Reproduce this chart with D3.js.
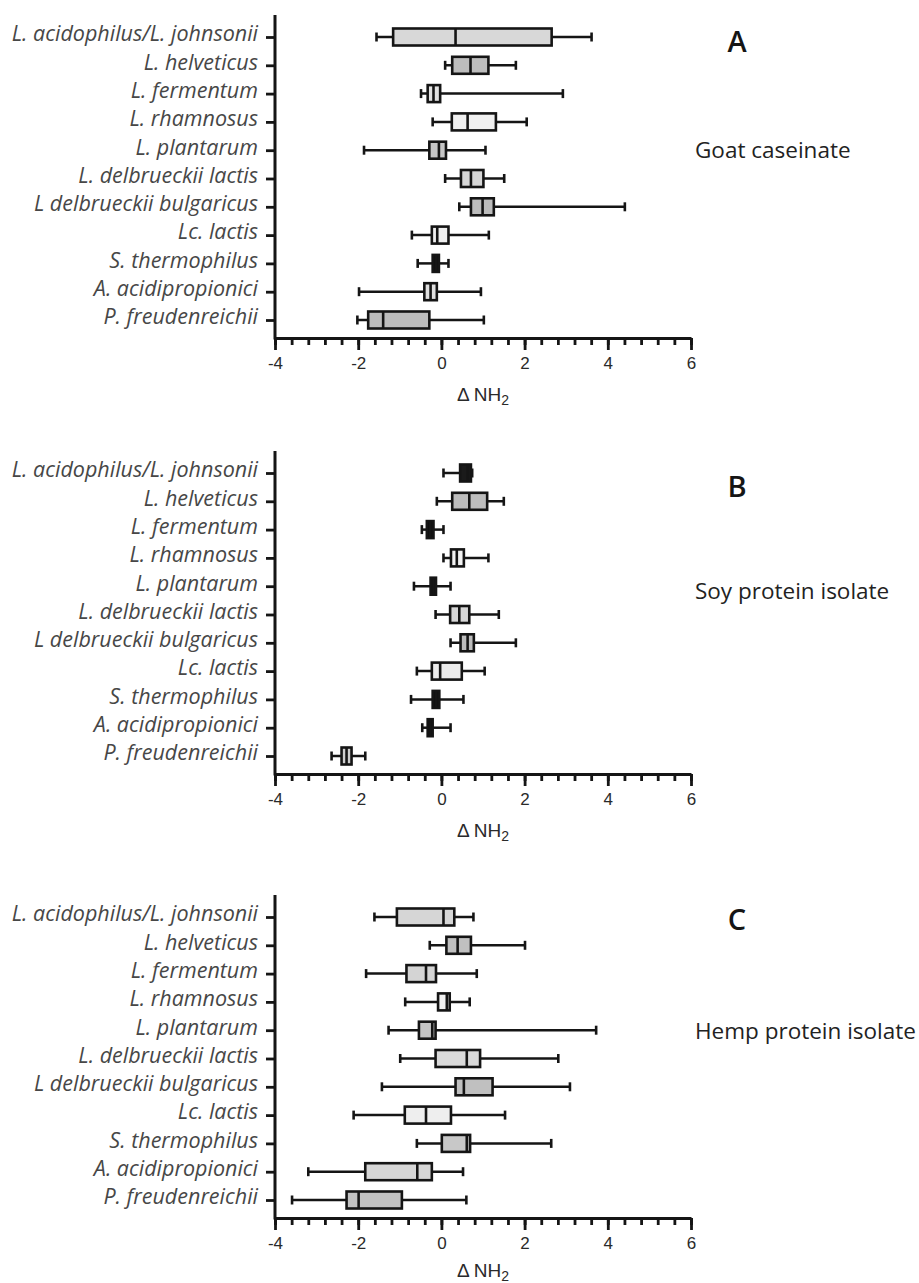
<!DOCTYPE html>
<html>
<head>
<meta charset="utf-8">
<script src="https://cdn.jsdelivr.net/npm/d3@7"></script>
<style>
  body { margin: 0; background: #fff; }
  svg { display: block; }
</style>
</head>
<body>
<script>
// species on the y axis, top to bottom
const species = [
  "L. acidophilus/L. johnsonii",
  "L. helveticus",
  "L. fermentum",
  "L. rhamnosus",
  "L. plantarum",
  "L. delbrueckii lactis",
  "L delbrueckii bulgaricus",
  "Lc. lactis",
  "S. thermophilus",
  "A. acidipropionici",
  "P. freudenreichii"
];

const xTicks = [-4, -2, 0, 2, 4, 6];
const panelLetters = ["A", "B", "C"];
const panelNames = ["Goat caseinate", "Soy protein isolate", "Hemp protein isolate"];

// [min, q1, median, q3, max] per species
const goatStats = [
  [-1.56, -1.16, 0.34, 2.65, 3.61],
  [0.09, 0.26, 0.70, 1.13, 1.79],
  [-0.49, -0.33, -0.19, -0.03, 2.92],
  [-0.21, 0.25, 0.63, 1.31, 2.05],
  [-1.86, -0.29, -0.06, 0.11, 1.06],
  [0.09, 0.47, 0.71, 1.01, 1.51],
  [0.43, 0.71, 0.99, 1.26, 4.41],
  [-0.71, -0.23, -0.10, 0.17, 1.14],
  [-0.57, -0.21, -0.13, -0.06, 0.17],
  [-1.98, -0.41, -0.26, -0.11, 0.95],
  [-2.02, -1.76, -1.40, -0.29, 1.02]
];

const soyStats = [
  [0.05, 0.45, 0.63, 0.71, 0.74],
  [-0.11, 0.26, 0.67, 1.10, 1.50],
  [-0.47, -0.35, -0.27, -0.19, 0.05],
  [0.05, 0.23, 0.37, 0.54, 1.13],
  [-0.66, -0.26, -0.19, -0.13, 0.22],
  [-0.14, 0.21, 0.43, 0.67, 1.38],
  [0.22, 0.46, 0.63, 0.78, 1.79],
  [-0.59, -0.23, -0.03, 0.49, 1.04],
  [-0.73, -0.21, -0.13, -0.05, 0.53],
  [-0.46, -0.33, -0.27, -0.21, 0.22],
  [-2.64, -2.40, -2.28, -2.16, -1.83]
];

const hempStats = [
  [-1.61, -1.07, 0.05, 0.31, 0.77],
  [-0.28, 0.12, 0.39, 0.71, 2.01],
  [-1.81, -0.84, -0.37, -0.13, 0.85],
  [-0.87, -0.08, 0.13, 0.20, 0.68],
  [-1.27, -0.54, -0.22, -0.14, 3.72],
  [-0.99, -0.14, 0.61, 0.93, 2.81],
  [-1.43, 0.34, 0.54, 1.23, 3.09],
  [-2.11, -0.88, -0.37, 0.23, 1.53],
  [-0.59, 0.01, 0.61, 0.69, 2.64],
  [-3.20, -1.83, -0.58, -0.23, 0.52],
  [-3.59, -2.28, -1.99, -0.95, 0.60]
];

// box fills, same order as species
const goatFill = ["#d8d8d8", "#bdbdbd", "#e2e2e2", "#f0f0f0", "#c6c6c6", "#d6d6d6", "#bcbcbc", "#efefef", "#111", "#e0e0e0", "#bdbdbd"];
const soyFill = ["#1a1a1a", "#bdbdbd", "#111", "#f3f3f3", "#111", "#d6d6d6", "#bcbcbc", "#ececec", "#111", "#111", "#cfcfcf"];
const hempFill = ["#d6d6d6", "#c0c0c0", "#d4d4d4", "#f2f2f2", "#c4c4c4", "#dadada", "#c0c0c0", "#eeeeee", "#c8c8c8", "#d6d6d6", "#c2c2c2"];

const panels = [
  { stats: goatStats, fill: goatFill },
  { stats: soyStats, fill: soyFill },
  { stats: hempStats, fill: hempFill }
];

const width = 919, height = 1283;
const panelTop = [0, 436, 880];
const letterY = [52, 61, 50];
const nameY = [158, 163, 159];
const xTitleY = [401, 401, 397];
const axisTop = 15, axisY = 338;
const boxH = 17, capH = 9;
const ink = "#151515";

const svg = d3.select("body").append("svg")
  .attr("width", width)
  .attr("height", height);

const x = d3.scaleLinear().domain([-4, 6]).range([275, 691]);
const y = d3.scalePoint().domain(species).range([37, 320]);

const minorTicks = d3.range(0, 26).map(i => -4 + i * 0.4);

panels.forEach((p, pi) => {
  const g = svg.append("g").attr("transform", `translate(0,${panelTop[pi]})`);

  // y axis with species names
  const yAxis = g.append("g")
    .attr("transform", `translate(${x(-4)},0)`)
    .call(d3.axisLeft(y).tickSize(9).tickSizeOuter(0).tickPadding(8));
  yAxis.select(".domain").remove();
  yAxis.selectAll(".tick line").attr("stroke", ink).attr("stroke-width", 2.8);
  yAxis.selectAll(".tick text")
    .attr("dy", "0.18em")
    .attr("fill", "#474747")
    .style("font-family", "'Open Sans', sans-serif")
    .style("font-style", "italic")
    .style("font-size", "21.5px");
  g.append("line")
    .attr("x1", x(-4)).attr("x2", x(-4))
    .attr("y1", axisTop).attr("y2", axisY + 1.5)
    .attr("stroke", ink).attr("stroke-width", 3);

  // x axis: minor then major ticks
  const minor = g.append("g")
    .attr("transform", `translate(0,${axisY})`)
    .call(d3.axisBottom(x).tickValues(minorTicks).tickSize(7).tickSizeOuter(0).tickFormat(""));
  minor.select(".domain").attr("stroke", ink).attr("stroke-width", 3);
  minor.selectAll(".tick line").attr("stroke", ink).attr("stroke-width", 2.8);

  const major = g.append("g")
    .attr("transform", `translate(0,${axisY})`)
    .call(d3.axisBottom(x).tickValues(xTicks).tickSize(12).tickSizeOuter(0).tickPadding(7)
      .tickFormat(d => String(d)));
  major.select(".domain").remove();
  major.selectAll(".tick line").attr("stroke", ink).attr("stroke-width", 2.8);
  major.selectAll(".tick text")
    .attr("fill", "#2a2a2a")
    .style("font-family", "'Liberation Sans', Arial, sans-serif")
    .style("font-size", "17px");

  // x axis title
  const title = g.append("text")
    .attr("x", (x(-4) + x(6)) / 2)
    .attr("y", xTitleY[pi])
    .attr("text-anchor", "middle")
    .attr("fill", "#2a2a2a")
    .style("font-family", "'Liberation Sans', Arial, sans-serif")
    .style("font-size", "19px");
  title.append("tspan").text("\u0394 NH");
  title.append("tspan").attr("dy", 4).style("font-size", "14px").text("2");

  // box plots
  const rows = g.selectAll(".box")
    .data(p.stats.map((s, i) => ({ name: species[i], s: s, fill: p.fill[i] })))
    .join("g")
    .attr("class", "box")
    .attr("transform", d => `translate(0,${y(d.name)})`);

  rows.append("line")
    .attr("x1", d => x(d.s[0])).attr("x2", d => x(d.s[4]))
    .attr("stroke", ink).attr("stroke-width", 2.5);
  rows.selectAll(".cap")
    .data(d => [d.s[0], d.s[4]])
    .join("line")
    .attr("class", "cap")
    .attr("x1", v => x(v)).attr("x2", v => x(v))
    .attr("y1", -capH / 2).attr("y2", capH / 2)
    .attr("stroke", ink).attr("stroke-width", 2.6);
  rows.append("rect")
    .attr("x", d => x(d.s[1]))
    .attr("width", d => x(d.s[3]) - x(d.s[1]))
    .attr("y", -boxH / 2).attr("height", boxH)
    .attr("fill", d => d.fill)
    .attr("stroke", ink).attr("stroke-width", 2.6);
  rows.append("line")
    .attr("x1", d => x(d.s[2])).attr("x2", d => x(d.s[2]))
    .attr("y1", -boxH / 2).attr("y2", boxH / 2)
    .attr("stroke", ink).attr("stroke-width", 2.6);

  // panel letter and substrate name
  g.append("text")
    .attr("x", 737).attr("y", letterY[pi])
    .attr("text-anchor", "middle")
    .attr("fill", ink)
    .style("font-family", "'Open Sans', sans-serif")
    .style("font-weight", 600)
    .style("font-size", "29px")
    .text(panelLetters[pi]);
  g.append("text")
    .attr("x", 695).attr("y", nameY[pi])
    .attr("fill", "#222")
    .style("font-family", "'Open Sans', sans-serif")
    .style("font-size", "22.5px")
    .text(panelNames[pi]);
});
</script>
</body>
</html>
